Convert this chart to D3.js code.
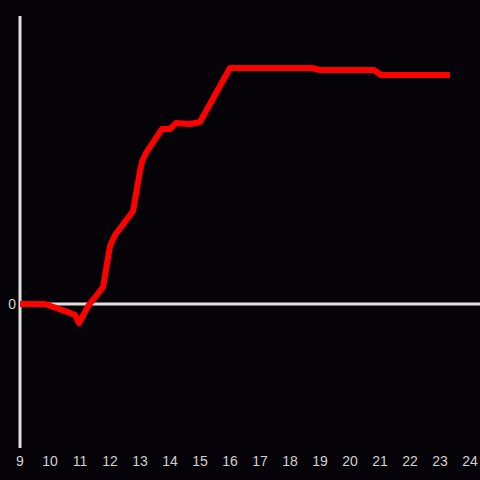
<!DOCTYPE html>
<html>
<head>
<meta charset="utf-8">
<script src="https://cdn.jsdelivr.net/npm/d3@7"></script>
<style>
  html, body { margin: 0; padding: 0; background: #050307; }
  svg { display: block; }
</style>
</head>
<body>
<div id="chart"></div>
<script>
(function(d3) {
    'use strict'

    var width = 480;
    var height = 480;

    // hour of day and value
    var hours = [9, 9.67, 9.83, 10.67, 10.83, 10.97, 11.27, 11.77, 12, 12.17, 12.77, 13, 13.07, 13.2, 13.73, 14, 14.2, 14.67, 15, 16, 18.73, 19, 20.8, 21.03, 23.33];
    var values = [0, 0, 0, -0.062, -0.076, -0.133, -0.014, 0.118, 0.403, 0.479, 0.646, 0.924, 0.99, 1.049, 1.215, 1.215, 1.257, 1.25, 1.264, 1.639, 1.639, 1.625, 1.625, 1.59, 1.59];
    var xTicks = [9, 10, 11, 12, 13, 14, 15, 16, 17, 18, 19, 20, 21, 22, 23, 24];
    var yTicks = [0];

    var data = hours.map(function(h, i) {
        return { x: h, y: values[i] };
    });

    var x = d3.scaleLinear()
        .domain([9, 24])
        .range([20, 470]);

    var y = d3.scaleLinear()
        .domain([-1, 2])
        .range([448, 16]);

    var svg = d3.select('#chart')
        .append('svg')
        .attr('width', width)
        .attr('height', height);

    svg.append('rect')
        .attr('width', width)
        .attr('height', height)
        .attr('fill', '#050307');

    // zero line
    svg.append('line')
        .attr('x1', x(9))
        .attr('x2', width)
        .attr('y1', y(0))
        .attr('y2', y(0))
        .attr('stroke', '#e0e0e0')
        .attr('stroke-width', 3);

    // vertical axis
    svg.append('line')
        .attr('x1', x(9))
        .attr('x2', x(9))
        .attr('y1', y(2))
        .attr('y2', y(-1))
        .attr('stroke', '#e0e0e0')
        .attr('stroke-width', 3);

    svg.selectAll('text.ytick')
        .data(yTicks)
        .enter()
        .append('text')
        .attr('class', 'ytick')
        .attr('x', 16)
        .attr('y', function(d) { return y(d); })
        .attr('dy', '0.35em')
        .attr('text-anchor', 'end')
        .attr('fill', '#d0d0d0')
        .style('font', '14px "Liberation Sans", Arial, sans-serif')
        .text(function(d) { return d; });

    svg.selectAll('text.xtick')
        .data(xTicks)
        .enter()
        .append('text')
        .attr('class', 'xtick')
        .attr('x', function(d) { return x(d); })
        .attr('y', 461)
        .attr('dy', '0.35em')
        .attr('text-anchor', 'middle')
        .attr('fill', '#d0d0d0')
        .style('font', '14px "Liberation Sans", Arial, sans-serif')
        .text(function(d) { return d; });

    var line = d3.line()
        .x(function(d) { return x(d.x); })
        .y(function(d) { return y(d.y); });

    svg.append('path')
        .datum(data)
        .attr('d', line)
        .attr('fill', 'none')
        .attr('stroke', '#ff0000')
        .attr('stroke-width', 6)
        .attr('stroke-linejoin', 'round');

})(window.d3);
</script>
</body>
</html>
